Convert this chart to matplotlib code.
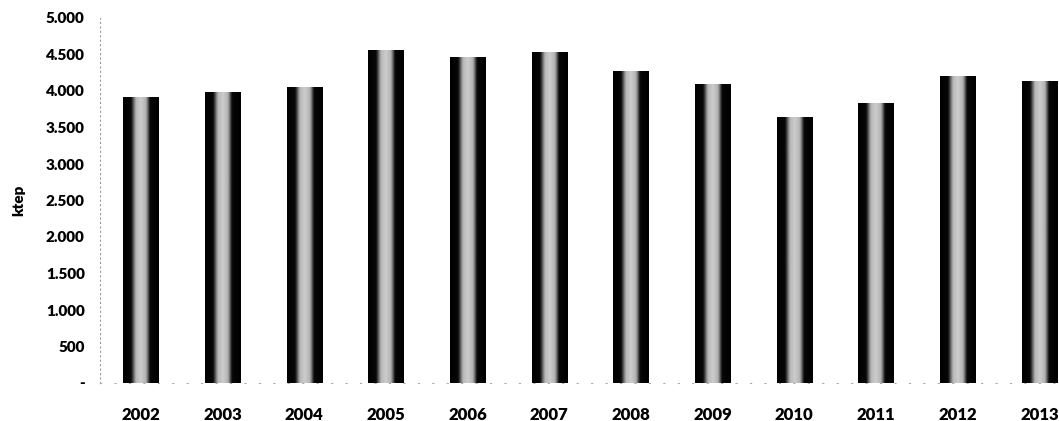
import numpy as np
from matplotlib import pyplot as plt
from matplotlib.ticker import FuncFormatter

plt.rcParams['font.family'] = ['Lato', 'DejaVu Sans']

# Yearly values (ktep)
years = ['2002', '2003', '2004', '2005', '2006', '2007',
         '2008', '2009', '2010', '2011', '2012', '2013']
values = [3920, 3985, 4055, 4560, 4465, 4535,
          4275, 4095, 3645, 3835, 4205, 4135]
y_ticks = [0, 500, 1000, 1500, 2000, 2500, 3000, 3500, 4000, 4500, 5000]


def fmt_ktep(v, pos=None):
    # italian style: dot as thousands separator, zero shown as a dash
    if v == 0:
        return '-'
    return '{:,.0f}'.format(v).replace(',', '.')


fig = plt.figure(figsize=(10.59, 4.21), dpi=100)
ax = fig.add_axes([100 / 1059, 38 / 421, 1 - 100 / 1059, 365 / 421])

x = np.arange(len(years))
bars = ax.bar(x, values, width=0.43, color='black', zorder=2)

# cylinder look: dark sides, light grey middle
prof = np.interp(np.linspace(0, 1, 60),
                 [0, 0.22, 0.36, 0.5, 0.64, 0.76, 1],
                 [0.0, 0.03, 0.72, 0.80, 0.70, 0.03, 0.0])
grad = prof[np.newaxis, :]
for b in bars:
    x0 = b.get_x()
    im = ax.imshow(grad, extent=[x0, x0 + b.get_width(), 0, b.get_height()],
                   aspect='auto', cmap='gray', vmin=0, vmax=1,
                   origin='lower', zorder=3, interpolation='bilinear')
    im.set_clip_path(b)

ax.set_xlim(-0.5, 11.24)
ax.set_ylim(0, 5000)
ax.set_yticks(y_ticks)
ax.yaxis.set_major_formatter(FuncFormatter(fmt_ktep))
ax.set_xticks(x)
ax.set_xticklabels(years)

ax.tick_params(axis='y', length=0, pad=11, labelsize=11)
ax.tick_params(axis='x', length=0, pad=17, labelsize=12)
for lab in ax.get_yticklabels() + ax.get_xticklabels():
    lab.set_fontweight('heavy')

ax.set_ylabel('ktep', fontsize=11, fontweight='heavy', labelpad=15)

for side in ['top', 'right']:
    ax.spines[side].set_visible(False)
ax.spines['left'].set_linestyle((0, (1, 3)))
ax.spines['left'].set_color('#999999')
ax.spines['left'].set_linewidth(0.8)
ax.spines['bottom'].set_linestyle((0, (1, 12)))
ax.spines['bottom'].set_color('#aaaaaa')
ax.spines['bottom'].set_linewidth(0.8)

fig.savefig('out.png', dpi=100)
